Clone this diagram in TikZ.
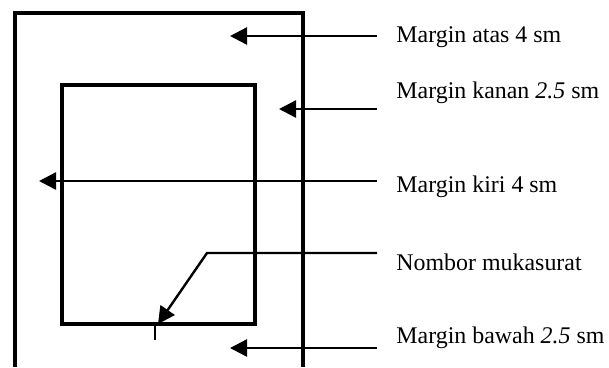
\documentclass[tikz,border=0pt]{standalone}
\usepackage{fontspec}
\setmainfont{Liberation Serif}
\usetikzlibrary{arrows.meta}

\tikzset{
  page/.style={line width=1.6bp},
  pointer/.style={line width=1.2bp,-{Triangle[length=8.5bp,width=8.5bp]}},
  caption/.style={anchor=base west,inner sep=0pt,font=\fontsize{12}{14}\selectfont},
}

\begin{document}
\begin{tikzpicture}[x=0.5bp,y=-0.5bp]
		\useasboundingbox (0,0) rectangle (609,367);
		% page and text area
		\draw[page] (15,367) -- (15,13) -- (303,13) -- (303,367);
		\draw[page] (62,85) rectangle (255,324);
		\draw[line width=0.6bp] (155,326) -- (155,340);
		% captions
		\node[caption] (atas) at (396,42.7) {Margin atas 4 sm};
		\node[caption] (kanan) at (396,98.3) {Margin kanan \textit{2.5} sm};
		\node[caption] (kiri) at (396,192.7) {Margin kiri 4 sm};
		\node[caption] (nombor) at (396,270.7) {Nombor mukasurat};
		\node[caption] (bawah) at (396,343.3) {Margin bawah \textit{2.5} sm};
		% arrow ends
		\coordinate (atas-s) at (377,36);
		\coordinate (atas-t) at (230,36);
		\coordinate (kanan-s) at (377,109);
		\coordinate (kanan-t) at (279,109);
		\coordinate (kiri-s) at (377,181);
		\coordinate (kiri-t) at (39,181);
		\coordinate (nombor-s) at (377,253);
		\coordinate (nombor-k) at (207,253);
		\coordinate (nombor-t) at (158,324);
		\coordinate (bawah-s) at (377,348);
		\coordinate (bawah-t) at (230,348);
		\draw[pointer] (atas-s) -- (atas-t);
		\draw[pointer] (kanan-s) -- (kanan-t);
		\draw[pointer] (kiri-s) -- (kiri-t);
		\draw[pointer] (nombor-s) -- (nombor-k) -- (nombor-t);
		\draw[pointer] (bawah-s) -- (bawah-t);
\end{tikzpicture}
\end{document}
